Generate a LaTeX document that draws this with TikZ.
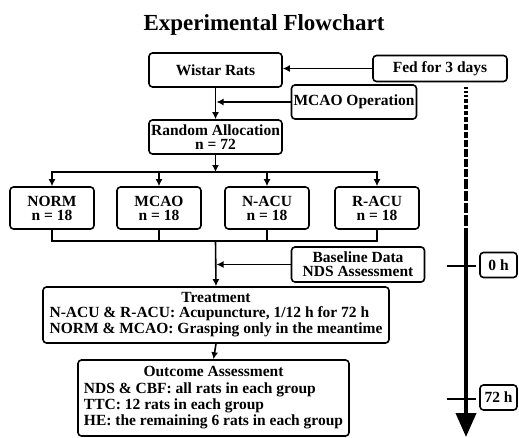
\documentclass[tikz,border=0pt]{standalone}
\usepackage{fontspec}
\setmainfont{Liberation Serif}
\usetikzlibrary{arrows.meta,positioning,calc}

\tikzset{
  box/.style={draw, rounded corners=3.5pt, line width=1.6pt, align=center, inner sep=1pt,
    font=\bfseries\fontsize{15.5}{14}\selectfont},
  grp/.style={box, minimum width=84pt, minimum height=42pt},
  timebox/.style={box, minimum width=37pt, minimum height=25pt},
  link/.style={line width=1.6pt},
  arr/.style={link, -{Latex[length=7pt,width=7pt]}}
}

\begin{document}
\begin{tikzpicture}[x=1pt, y=-1pt, >=Latex]
  \useasboundingbox (0,0) rectangle (519,437);
  % title
  \node[font=\bfseries\fontsize{23}{24}\selectfont] (title) at (264,25) {Experimental Flowchart};

  % upper chain
  \node[box, minimum width=133pt, minimum height=34pt] (rats) at (215.5,70) {Wistar Rats};
  \node[box, minimum width=134pt, minimum height=26pt] (fed) at (440,68.5) {Fed for 3 days};
  \node[box, minimum width=125pt, minimum height=34pt] (mcaoop) at (354,102) {MCAO Operation};
  \node[box, minimum width=133pt, minimum height=34pt] (random) at (215.5,137) {Random Allocation\\n = 72};

  \draw[arr] (fed.west) -- (rats.east |- fed.west);
  \draw[arr] (rats.south) -- (random.north);
  \draw[arr] (mcaoop.west) -- ($(rats.south |- mcaoop.west)+(1,0)$);

  % groups
  \coordinate (split) at (215.5,172);
  \coordinate (join) at (215.5,241);
  \foreach \name/\lbl/\x in {norm/NORM/52, mcao/MCAO/159, nacu/N-ACU/267, racu/R-ACU/377}
    \node[grp] (\name) at (\x,208) {\lbl\\n = 18};

  \draw[arr] (random.south) -- (split);
  \draw[link, line cap=rect] (norm.north |- split) -- (racu.north |- split);
  \foreach \name in {norm,mcao,nacu,racu}
    \draw[arr] (\name.north |- split) -- (\name.north);
  \draw[link] (norm.south) |- (racu.south |- join) -- (racu.south);
  \draw[link] (mcao.south) -- (mcao.south |- join);
  \draw[link] (nacu.south) -- (nacu.south |- join);

  % baseline, treatment, outcome
  \node[box, minimum width=133pt, minimum height=35pt] (baseline) at (358,264.5) {Baseline Data\\NDS Assessment};
  \node[box, minimum width=346pt, minimum height=56pt] (treat) at (216,315)
    {\fontsize{15.5}{14.5}\selectfont\begin{tabular}{@{}l@{}}\multicolumn{1}{c}{Treatment}\\
     N-ACU \& R-ACU: Acupuncture, 1/12 h for 72 h\\
     NORM \& MCAO: Grasping only in the meantime\end{tabular}};
  \node[box, minimum width=271pt, minimum height=76pt] (outcome) at (213.5,398)
    {\fontsize{15.5}{16.3}\selectfont\begin{tabular}{@{}l@{}}\multicolumn{1}{c}{Outcome Assessment}\\
     NDS \& CBF: all rats in each group\\
     TTC: 12 rats in each group\\
     HE: the remaining 6 rats in each group\end{tabular}};

  \draw[arr] (join) -- (treat.north);
  \draw[arr] (baseline.west) -- ($(join |- baseline.west)+(1,0)$);
  \draw[arr] (treat.south) -- (outcome.north);

  % time line
  \coordinate (tltop) at (466,87);
  \coordinate (tlmid) at (466,240);
  \coordinate (tlend) at (466,437);
  \foreach \i in {0,...,17} {
    \pgfmathsetmacro{\ya}{87+3.5*\i+0.3*\i*(\i-1)}
    \pgfmathsetmacro{\yb}{\ya+1.5+0.6*\i}
    \draw[line width=4pt] (466,\ya) -- (466,\yb);
  }
  \draw[line width=4pt, -{Triangle[length=24pt,width=20pt]}] (tlmid) -- (tlend);

  \node[timebox] (t0) at (498.5,265) {0 h};
  \node[timebox] (t72) at (498.5,397.5) {72 h};
  \coordinate (tick0) at (447,266);
  \coordinate (tick72) at (447,399);
  \draw[link, shorten >=3pt] (tick0) -- (tick0 -| t0.west);
  \draw[link, shorten >=3pt] (tick72) -- (tick72 -| t72.west);
\end{tikzpicture}
\end{document}
